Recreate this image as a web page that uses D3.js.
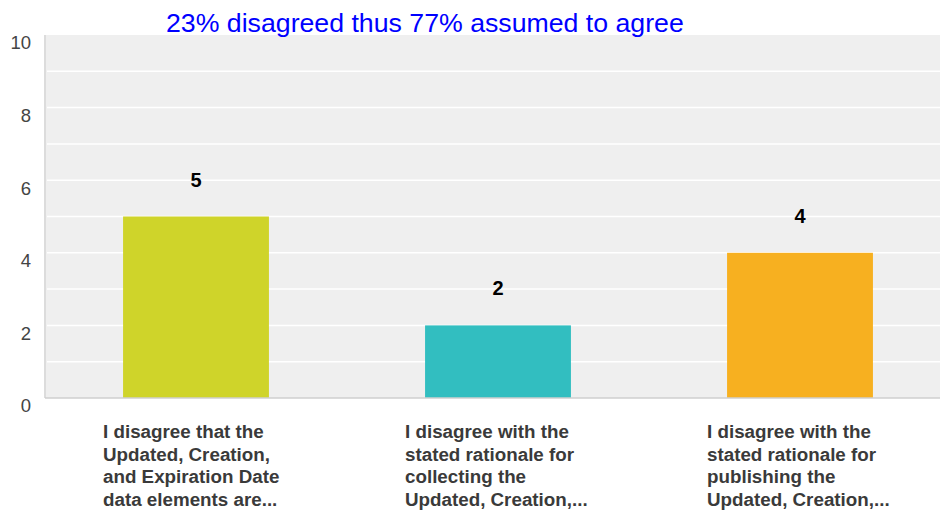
<!DOCTYPE html>
<html>
<head>
<meta charset="utf-8">
<script src="https://cdn.jsdelivr.net/npm/d3@7"></script>
<style>
  body { margin: 0; background: #fff; }
  svg { display: block; font-family: "Liberation Sans", Arial, sans-serif; }
</style>
</head>
<body>
<div id="chart"></div>
<script>
// Data
const categories = ["q1", "q2", "q3"];
const labels = [
  ["I disagree that the", "Updated, Creation,", "and Expiration Date", "data elements are..."],
  ["I disagree with the", "stated rationale for", "collecting the", "Updated, Creation,..."],
  ["I disagree with the", "stated rationale for", "publishing the", "Updated, Creation,..."]
];
const counts = [5, 2, 4];
const barColours = ["#cfd42a", "#32bec0", "#f7b020"];
const yTicks = [0, 2, 4, 6, 8, 10];
const gridTicks = [1, 2, 3, 4, 5, 6, 7, 8, 9];
const title = "23% disagreed thus 77% assumed to agree";

const width = 940, height = 510;
const plotLeft = 45, plotTop = 35, plotBottom = 398;

const svg = d3.select("#chart").append("svg")
  .attr("width", width)
  .attr("height", height);

// Scales
const x = d3.scaleBand()
  .domain(categories)
  .range([plotLeft, 951])
  .paddingInner(0.517)
  .paddingOuter(0.2585);

const y = d3.scaleLinear()
  .domain([0, 10])
  .range([plotBottom, plotTop]);

// Plot background
svg.append("rect")
  .attr("x", plotLeft)
  .attr("y", y(10))
  .attr("width", width - plotLeft)
  .attr("height", y(0) - y(10))
  .attr("fill", "#efefef");

// Grid lines
svg.append("g")
  .selectAll("line")
  .data(gridTicks)
  .join("line")
    .attr("x1", plotLeft + 2)
    .attr("x2", width)
    .attr("y1", d => y(d))
    .attr("y2", d => y(d))
    .attr("stroke", "#fff")
    .attr("stroke-width", 1.5);

// Y axis labels
const yAxis = svg.append("g")
  .attr("transform", `translate(${plotLeft},0)`)
  .call(d3.axisLeft(y).tickValues(yTicks).tickSize(0).tickPadding(14));
yAxis.select(".domain").remove();
yAxis.selectAll("text")
  .attr("dy", "0.75em")
  .attr("font-size", 18.5)
  .attr("font-family", "Liberation Sans, Arial, sans-serif")
  .attr("fill", "#444");

// Left axis line
svg.append("line")
  .attr("x1", plotLeft).attr("x2", plotLeft)
  .attr("y1", y(10)).attr("y2", y(0))
  .attr("stroke", "#dcdcdc")
  .attr("stroke-width", 2);

// Bars
svg.append("g")
  .selectAll("rect")
  .data(counts)
  .join("rect")
    .attr("x", (d, i) => x(categories[i]))
    .attr("y", d => y(d))
    .attr("width", x.bandwidth())
    .attr("height", d => y(0) - y(d))
    .attr("fill", (d, i) => barColours[i]);

// Bottom axis line
svg.append("line")
  .attr("x1", plotLeft).attr("x2", width)
  .attr("y1", y(0)).attr("y2", y(0))
  .attr("stroke", "#cfcfcf")
  .attr("stroke-width", 1.5);

// Value labels
svg.append("g")
  .selectAll("text")
  .data(counts)
  .join("text")
    .attr("x", (d, i) => x(categories[i]) + x.bandwidth() / 2)
    .attr("y", d => y(d) - 30)
    .attr("text-anchor", "middle")
    .attr("font-size", 20)
    .attr("font-weight", "bold")
    .attr("fill", "#000")
    .text(d => d);

// Category labels
const catLabels = svg.append("g")
  .selectAll("text")
  .data(labels)
  .join("text")
    .attr("x", (d, i) => x(categories[i]) + x.bandwidth() / 2 - 93)
    .attr("y", 438)
    .attr("font-size", 18.8)
    .attr("font-weight", "bold")
    .attr("fill", "#3a3a3a");

catLabels.selectAll("tspan")
  .data(d => d)
  .join("tspan")
    .attr("x", function () { return this.parentNode.getAttribute("x"); })
    .attr("dy", (d, i) => i === 0 ? 0 : 22.6)
    .text(d => d);

// Title
svg.append("text")
  .attr("x", 166)
  .attr("y", 32)
  .attr("font-size", 26.7)
  .attr("fill", "#0000ff")
  .text(title);
</script>
</body>
</html>
